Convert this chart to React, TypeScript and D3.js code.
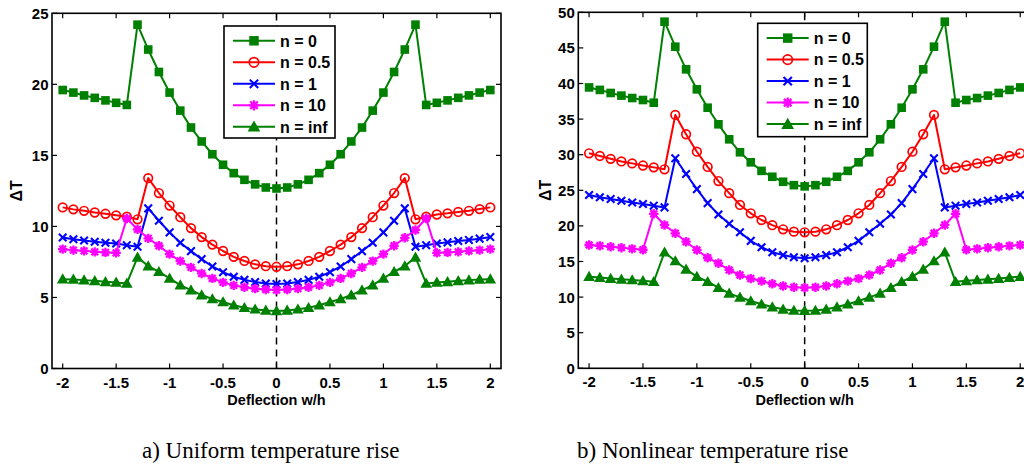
import React from 'react';
import * as d3 from 'd3';

// ---------- data ----------
const X = [-2, -1.9, -1.8, -1.7, -1.6, -1.5, -1.4, -1.3, -1.2, -1.1, -1, -0.9, -0.8, -0.7, -0.6, -0.5, -0.4, -0.3, -0.2, -0.1, 0,
  0.1, 0.2, 0.3, 0.4, 0.5, 0.6, 0.7, 0.8, 0.9, 1, 1.1, 1.2, 1.3, 1.4, 1.5, 1.6, 1.7, 1.8, 1.9, 2];

const SERIES_NAMES = ['n = 0', 'n = 0.5', 'n = 1', 'n = 10', 'n = inf'];
const SERIES_COLORS = ['#008000', '#ff0000', '#0000ff', '#ff00ff', '#008000'];
const SERIES_MARKERS = ['square', 'circle', 'x', 'star', 'triangle'];

// a) Uniform temperature rise
const uniformN0 = [19.6, 19.42, 19.22, 19.05, 18.87, 18.7, 18.55, 24.2, 22.45, 20.87, 19.42, 18.15, 16.96, 15.98, 15.08, 14.34, 13.75, 13.28, 12.96, 12.74, 12.67,
  12.74, 12.96, 13.28, 13.75, 14.34, 15.08, 15.98, 16.96, 18.15, 19.42, 20.87, 22.45, 24.2, 18.55, 18.7, 18.87, 19.05, 19.22, 19.42, 19.6];
const uniformN05 = [11.34, 11.2, 11.1, 10.98, 10.89, 10.78, 10.68, 10.5, 13.4, 12.35, 11.47, 10.65, 9.88, 9.25, 8.72, 8.27, 7.86, 7.57, 7.33, 7.2, 7.16,
  7.2, 7.33, 7.57, 7.86, 8.27, 8.72, 9.25, 9.88, 10.65, 11.47, 12.35, 13.4, 10.5, 10.68, 10.84, 10.92, 11.02, 11.1, 11.22, 11.34];
const uniformN1 = [9.22, 9.1, 9.01, 8.92, 8.85, 8.8, 8.68, 8.57, 11.27, 10.4, 9.58, 8.85, 8.26, 7.7, 7.18, 6.78, 6.46, 6.24, 6.08, 5.98, 5.94,
  5.98, 6.08, 6.24, 6.46, 6.78, 7.18, 7.7, 8.26, 8.85, 9.58, 10.4, 11.27, 8.57, 8.68, 8.8, 8.88, 8.97, 9.05, 9.14, 9.25];
const uniformN10 = [8.4, 8.33, 8.28, 8.21, 8.17, 8.14, 10.56, 9.79, 9.16, 8.64, 8.05, 7.56, 7.12, 6.69, 6.34, 6.06, 5.85, 5.72, 5.62, 5.56, 5.53,
  5.56, 5.62, 5.72, 5.85, 6.06, 6.34, 6.69, 7.12, 7.56, 8.05, 8.64, 9.2, 9.75, 10.56, 8.14, 8.17, 8.21, 8.28, 8.33, 8.4];
const uniformNinf = [6.29, 6.27, 6.22, 6.17, 6.1, 6.06, 5.99, 7.82, 7.21, 6.81, 6.34, 5.87, 5.52, 5.17, 4.89, 4.68, 4.45, 4.28, 4.17, 4.09, 4.05,
  4.09, 4.17, 4.28, 4.45, 4.68, 4.89, 5.17, 5.52, 5.87, 6.34, 6.81, 7.21, 7.82, 5.99, 6.06, 6.1, 6.17, 6.22, 6.27, 6.29];

// b) Nonlinear temperature rise
const nonlinN0 = [39.45, 39.1, 38.67, 38.3, 37.96, 37.68, 37.3, 48.68, 45.17, 41.99, 39.18, 36.6, 34.27, 32.16, 30.34, 28.93, 27.73, 26.9, 26.2, 25.72, 25.55,
  25.72, 26.2, 26.9, 27.73, 28.93, 30.34, 32.16, 34.27, 36.6, 39.18, 41.99, 45.17, 48.68, 37.3, 37.68, 37.96, 38.3, 38.67, 39.1, 39.45];
const nonlinN05 = [30.2, 29.82, 29.42, 29.05, 28.78, 28.48, 28.22, 27.95, 35.58, 32.87, 30.42, 28.28, 26.3, 24.6, 22.94, 21.77, 20.83, 20.1, 19.52, 19.19, 19.1,
  19.19, 19.52, 20.1, 20.83, 21.77, 22.94, 24.6, 26.3, 28.28, 30.42, 32.87, 35.58, 27.95, 28.22, 28.48, 28.78, 29.05, 29.42, 29.82, 30.2];
const nonlinN1 = [24.34, 24.02, 23.78, 23.54, 23.28, 23.08, 22.84, 22.6, 29.49, 27.29, 25.16, 23.2, 21.6, 20.3, 19.1, 17.9, 17.0, 16.3, 15.9, 15.6, 15.45,
  15.6, 15.9, 16.3, 17.0, 17.9, 19.1, 20.3, 21.6, 23.2, 25.16, 27.29, 29.49, 22.6, 22.84, 23.08, 23.28, 23.54, 23.78, 24.02, 24.34];
const nonlinN10 = [17.32, 17.2, 17.07, 16.94, 16.78, 16.65, 21.7, 20.13, 18.96, 17.78, 16.62, 15.53, 14.75, 13.81, 13.1, 12.6, 12.25, 11.87, 11.56, 11.38, 11.32,
  11.38, 11.56, 11.87, 12.25, 12.6, 13.1, 13.81, 14.75, 15.53, 16.62, 17.78, 18.96, 20.13, 21.7, 16.65, 16.78, 16.94, 17.07, 17.2, 17.32];
const nonlinNinf = [12.87, 12.74, 12.6, 12.5, 12.4, 12.28, 12.16, 16.3, 15.07, 13.9, 12.87, 12.16, 11.32, 10.53, 9.97, 9.45, 9.0, 8.6, 8.29, 8.12, 8.09,
  8.12, 8.29, 8.6, 9.0, 9.45, 9.97, 10.53, 11.32, 12.16, 12.87, 13.9, 15.07, 16.3, 12.16, 12.28, 12.4, 12.5, 12.6, 12.74, 12.87];

const X_TICKS = [-2, -1.5, -1, -0.5, 0, 0.5, 1, 1.5, 2];
const X_TICK_LABELS = ['-2', '-1.5', '-1', '-0.5', '0', '0.5', '1', '1.5', '2'];
const Y_TICKS_A = [0, 5, 10, 15, 20, 25];
const Y_TICKS_B = [0, 5, 10, 15, 20, 25, 30, 35, 40, 45, 50];
const X_DOMAIN = [-2.1, 2.1];
const Y_DOMAIN_A = [0, 25];
const Y_DOMAIN_B = [0, 50];

const X_LABEL = 'Deflection w/h';
const Y_LABEL = 'ΔT';
const CAPTION_A = 'a) Uniform temperature rise';
const CAPTION_B = 'b) Nonlinear temperature rise';

// ---------- drawing ----------
const SANS = '"Liberation Sans", Arial, Helvetica, sans-serif';
const SERIF = '"Liberation Serif", "Times New Roman", serif';

function Marker({ type, x, y, color, s = 1 }: { type: string; x: number; y: number; color: string; s?: number }) {
  switch (type) {
    case 'square': {
      const h = 4.3 * s;
      return <rect x={x - h} y={y - h} width={2 * h} height={2 * h} fill={color} />;
    }
    case 'circle':
      return <circle cx={x} cy={y} r={4.3 * s} fill="none" stroke={color} strokeWidth={1.7} />;
    case 'x': {
      const h = 3.8 * s;
      return (
        <path d={`M${x - h},${y - h}L${x + h},${y + h}M${x - h},${y + h}L${x + h},${y - h}`}
          stroke={color} strokeWidth={2.1} fill="none" />
      );
    }
    case 'star': {
      const a = 4.7 * s, b = 3.4 * s;
      return (
        <path d={`M${x - a},${y}L${x + a},${y}M${x},${y - a}L${x},${y + a}M${x - b},${y - b}L${x + b},${y + b}M${x - b},${y + b}L${x + b},${y - b}`}
          stroke={color} strokeWidth={2.3} fill="none" />
      );
    }
    case 'triangle': {
      const w = 5.8 * s;
      return <path d={`M${x},${y - w}L${x + w},${y + 0.75 * w}L${x - w},${y + 0.75 * w}Z`} fill={color} />;
    }
    default:
      return null;
  }
}

interface PanelProps {
  left: number; right: number; top: number; bottom: number;
  yDomain: number[]; yTicks: number[];
  series: number[][];
  legendX: number; legendY: number; legendW: number; legendH: number;
  yLabelX: number;
  caption: string; captionX: number;
}

function Panel(p: PanelProps) {
  const xs = d3.scaleLinear().domain(X_DOMAIN).range([p.left, p.right]);
  const ys = d3.scaleLinear().domain(p.yDomain).range([p.bottom, p.top]);
  const line = d3.line<number>().x((_, i) => xs(X[i])).y((d) => ys(d));
  const tick = 5;
  const midY = (p.top + p.bottom) / 2;
  return (
    <g>
      {/* dashed zero line */}
      <line x1={xs(0)} x2={xs(0)} y1={p.bottom} y2={p.top} stroke="#000" strokeWidth={1.5} strokeDasharray="7,5" />
      {/* series */}
      {p.series.map((s, si) => (
        <g key={si}>
          <path d={line(s) || ''} fill="none" stroke={SERIES_COLORS[si]} strokeWidth={2} strokeLinejoin="round" />
          {s.map((v, i) => (
            <Marker key={i} type={SERIES_MARKERS[si]} x={xs(X[i])} y={ys(v)} color={SERIES_COLORS[si]} />
          ))}
        </g>
      ))}
      {/* axes box */}
      <rect x={p.left} y={p.top} width={p.right - p.left} height={p.bottom - p.top} fill="none" stroke="#000" strokeWidth={1.6} />
      {X_TICKS.map((t, i) => (
        <g key={'xt' + i}>
          <line x1={xs(t)} x2={xs(t)} y1={p.bottom} y2={p.bottom - tick} stroke="#000" strokeWidth={1.2} />
          <line x1={xs(t)} x2={xs(t)} y1={p.top} y2={p.top + tick} stroke="#000" strokeWidth={1.2} />
          <text x={xs(t)} y={p.bottom + 19} textAnchor="middle" fontFamily={SANS} fontWeight="bold" fontSize={15}>
            {X_TICK_LABELS[i]}
          </text>
        </g>
      ))}
      {p.yTicks.map((t, i) => (
        <g key={'yt' + i}>
          <line x1={p.left} x2={p.left + tick} y1={ys(t)} y2={ys(t)} stroke="#000" strokeWidth={1.2} />
          <line x1={p.right} x2={p.right - tick} y1={ys(t)} y2={ys(t)} stroke="#000" strokeWidth={1.2} />
          <text x={p.left - 3.5} y={ys(t)} dy="0.36em" textAnchor="end" fontFamily={SANS} fontWeight="bold" fontSize={15}>
            {String(t)}
          </text>
        </g>
      ))}
      {/* axis labels */}
      <text x={(p.left + p.right) / 2} y={404.5} textAnchor="middle" fontFamily={SANS} fontWeight="bold" fontSize={14.5}>
        {X_LABEL}
      </text>
      <text transform={`translate(${p.yLabelX},${midY}) rotate(-90)`} dy="0.36em" textAnchor="middle"
        fontFamily={SANS} fontWeight="bold" fontSize={16}>
        {Y_LABEL}
      </text>
      {/* legend */}
      <g>
        <rect x={p.legendX} y={p.legendY} width={p.legendW} height={p.legendH} fill="#fff" stroke="#000" strokeWidth={1.6} />
        {SERIES_NAMES.map((name, i) => {
          const ey = p.legendY + 14.8 + i * 21.5;
          return (
            <g key={'lg' + i}>
              <line x1={p.legendX + 9} x2={p.legendX + 51} y1={ey} y2={ey} stroke={SERIES_COLORS[i]} strokeWidth={2} />
              <Marker type={SERIES_MARKERS[i]} x={p.legendX + 30} y={ey} color={SERIES_COLORS[i]} s={1.1} />
              <text x={p.legendX + 56} y={ey} dy="0.36em" fontFamily={SANS} fontWeight="bold" fontSize={16}>{name}</text>
            </g>
          );
        })}
      </g>
      {/* caption */}
      <text x={p.captionX} y={458} fontFamily={SERIF} fontSize={23}>{p.caption}</text>
    </g>
  );
}

export default function App() {
  return (
    <svg width={1024} height={467} viewBox="0 0 1024 467"
      style={{ position: 'absolute', left: 0, top: 0, background: '#fff' }}>
      <rect x={0} y={0} width={1024} height={467} fill="#fff" />
      <Panel left={52} right={501} top={13.3} bottom={368.5}
        yDomain={Y_DOMAIN_A} yTicks={Y_TICKS_A}
        series={[uniformN0, uniformN05, uniformN1, uniformN10, uniformNinf]}
        legendX={224} legendY={26} legendW={111} legendH={112}
        yLabelX={16} caption={CAPTION_A} captionX={142} />
      <Panel left={578.3} right={1031} top={12.3} bottom={368.3}
        yDomain={Y_DOMAIN_B} yTicks={Y_TICKS_B}
        series={[nonlinN0, nonlinN05, nonlinN1, nonlinN10, nonlinNinf]}
        legendX={757.7} legendY={23.3} legendW={109.6} legendH={113.4}
        yLabelX={545} caption={CAPTION_B} captionX={577} />
    </svg>
  );
}
